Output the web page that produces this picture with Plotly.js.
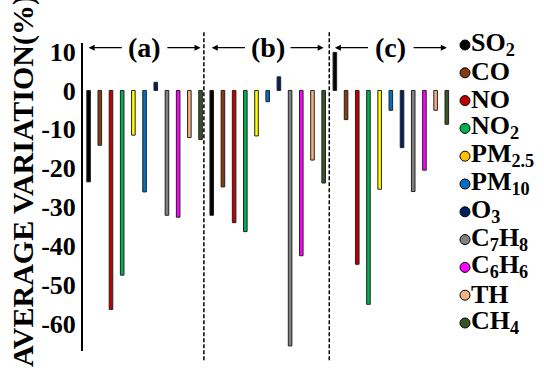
<!DOCTYPE html>
<html>
<head>
<meta charset="utf-8">
<script src="https://cdn.plot.ly/plotly-3.0.1.min.js"></script>
<style>html,body{margin:0;padding:0;background:#fff;}#chart{width:544px;height:381px;}</style>
</head>
<body>
<div id="chart"></div>
<script>
// Pollutants (legend labels) and colours
const pollutants = ["SO<sub>2</sub>", "CO", "NO", "NO<sub>2</sub>", "PM<sub>2.5</sub>", "PM<sub>10</sub>", "O<sub>3</sub>", "C<sub>7</sub>H<sub>8</sub>", "C<sub>6</sub>H<sub>6</sub>", "TH", "CH<sub>4</sub>"];
const barColors = ["#000000", "#843C0C", "#C00000", "#00B050", "#FFFF00", "#0070C0", "#002060", "#808080", "#FF00FF", "#F4B183", "#375623"];
const legendColors = ["#000000", "#843C0C", "#C00000", "#00B050", "#FFC000", "#0070C0", "#002060", "#808080", "#FF00FF", "#F4B183", "#375623"];
const groupLabels = ["(a)", "(b)", "(c)"];
// Average variation (%) per group, in pollutant order
const groupA = [-23.5, -14.1, -56.3, -47.5, -11.5, -26.1, 2.1, -32.1, -32.6, -12.1, -12.6];
const groupB = [-32.1, -24.8, -34.0, -36.3, -11.7, -2.9, 3.5, -65.7, -42.5, -17.9, -23.8];
const groupC = [9.8, -7.5, -44.7, -55.0, -25.4, -5.1, -14.7, -26.0, -20.5, -5.1, -8.7];
const tickValues = [10, 0, -10, -20, -30, -40, -50, -60];

const groups = [groupA, groupB, groupC];
const nP = pollutants.length;
const serif = "Liberation Serif, Times New Roman, serif";

// plot-area geometry (px) used to place legend/title in paper coords
const W = 544, H = 381, ML = 83, MR = 86, MT = 43, MB = 30;
const pw = W - ML - MR, ph = H - MT - MB;
const px2x = px => (px - ML) / pw;
const px2y = py => (H - MB - py) / ph;

const traces = [];
pollutants.forEach((p, i) => {
  traces.push({
    type: "bar",
    name: p,
    x: groups.map((g, gi) => gi * nP + i),
    y: groups.map(g => g[i]),
    width: 0.32,
    marker: {color: barColors[i], line: {color: "#222222", width: 1}},
    showlegend: false,
    hoverinfo: "skip"
  });
});

const shapes = [];
for (let gi = 1; gi < groups.length; gi++) {
  const xs = gi === 1 ? gi * nP - 0.7 : gi * nP - 0.5;
  shapes.push({type: "line", xref: "x", yref: "paper", x0: xs, x1: xs, y0: -0.03, y1: 1.035,
    line: {color: "#000", width: 1.5, dash: "4px,2px"}});
}

const annotations = [];
const arrowY = 11.0;
groupLabels.forEach((lab, gi) => {
  const c = gi * nP + (nP - 1) / 2;
  annotations.push({x: c, y: arrowY, xref: "x", yref: "y", text: "<b>" + lab + "</b>", showarrow: false,
    font: {family: serif, size: 28, color: "#000"}});
  annotations.push({x: c - 5.0, y: arrowY, ax: c - 1.9, ay: arrowY, xref: "x", yref: "y", axref: "x", ayref: "y",
    text: "", showarrow: true, arrowhead: 2, arrowsize: 1, arrowwidth: 1.2, arrowcolor: "#000"});
  annotations.push({x: c + 5.0, y: arrowY, ax: c + 1.9, ay: arrowY, xref: "x", yref: "y", axref: "x", ayref: "y",
    text: "", showarrow: true, arrowhead: 2, arrowsize: 1, arrowwidth: 1.2, arrowcolor: "#000"});
});
// y-axis title
annotations.push({xref: "paper", yref: "paper", x: px2x(23), y: px2y(181), xanchor: "center", yanchor: "middle",
  textangle: -90, text: "<b>AVERAGE VARIATION(%)</b>", showarrow: false,
  font: {family: serif, size: 30, color: "#000"}});

// legend: circle markers + labels
pollutants.forEach((p, i) => {
  const cy = 45 + i * 27.8;
  shapes.push({type: "circle", xref: "paper", yref: "paper", xsizemode: "pixel", ysizemode: "pixel",
    xanchor: px2x(465), yanchor: px2y(cy), x0: -5, x1: 5, y0: -5, y1: 5,
    fillcolor: legendColors[i], line: {color: "#000", width: 1}});
  annotations.push({xref: "paper", yref: "paper", x: px2x(469), y: px2y(cy - 1), xanchor: "left", yanchor: "middle",
    text: "<b>" + p + "</b>", showarrow: false, font: {family: serif, size: 26, color: "#000"}});
});

const layout = {
  width: W, height: H,
  margin: {l: ML, r: MR, t: MT, b: MB, pad: 0},
  paper_bgcolor: "#fff", plot_bgcolor: "#fff",
  bargap: 0, barmode: "overlay",
  xaxis: {range: [-0.5, 33], showgrid: false, zeroline: false, showline: false, showticklabels: false, ticks: ""},
  yaxis: {range: [-67.0, 12.2], showgrid: false, zeroline: false, showline: true, linecolor: "#000", linewidth: 2,
    ticks: "", tickvals: tickValues, ticktext: tickValues.map(String),
    tickfont: {family: serif, size: 26, color: "#000", weight: "bold"}},
  showlegend: false,
  shapes: shapes,
  annotations: annotations
};

Plotly.newPlot("chart", traces, layout, {displayModeBar: false, staticPlot: true});
</script>
</body>
</html>
